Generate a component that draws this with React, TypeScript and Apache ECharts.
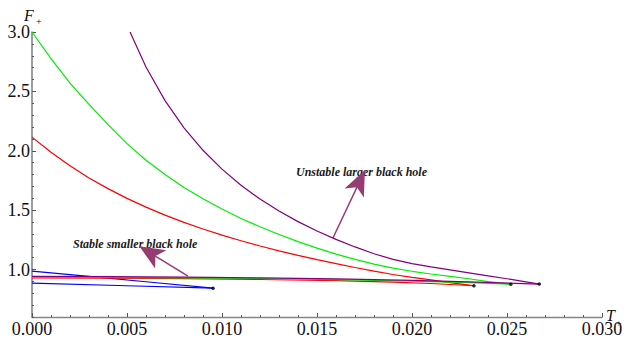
import React, { useEffect, useRef } from "react";
import * as echarts from "echarts";

// Tick labels
const xTickLabels = [0, 0.005, 0.01, 0.015, 0.02, 0.025, 0.03];
const yTickLabels = [1.0, 1.5, 2.0, 2.5, 3.0];

// Blue (cusp at T ≈ 0.00953)
const blueUpper: [number, number][] = [[0, 0.987], [0.003, 0.942], [0.006, 0.897], [0.00953, 0.843]];
const blueLower: [number, number][] = [[0, 0.885], [0.005, 0.863], [0.00953, 0.843]];

// Red (cusp at T ≈ 0.02326)
const redUpper: [number, number][] = [
  [0, 2.115], [0.001, 1.987], [0.002, 1.873], [0.003, 1.771], [0.004, 1.681], [0.005, 1.599],
  [0.006, 1.525], [0.007, 1.458], [0.008, 1.397], [0.009, 1.341], [0.01, 1.29], [0.011, 1.242],
  [0.012, 1.198], [0.013, 1.157], [0.014, 1.119], [0.015, 1.083], [0.016, 1.05], [0.017, 1.017],
  [0.018, 0.986], [0.019, 0.958], [0.02, 0.934], [0.021, 0.912], [0.022, 0.89], [0.023, 0.869],
  [0.02326, 0.863],
];
const redLower: [number, number][] = [
  [0, 0.929], [0.004, 0.927], [0.008, 0.923], [0.012, 0.916], [0.016, 0.906], [0.019, 0.894],
  [0.021, 0.882], [0.02326, 0.863],
];

// Green (cusp at T ≈ 0.0252)
const greenUpper: [number, number][] = [
  [0, 3.0], [0.001, 2.775], [0.002, 2.57], [0.003, 2.39], [0.004, 2.22], [0.005, 2.06],
  [0.006, 1.92], [0.007, 1.8], [0.008, 1.69], [0.009, 1.595], [0.01, 1.51], [0.011, 1.43],
  [0.012, 1.36], [0.013, 1.295], [0.014, 1.235], [0.015, 1.18], [0.016, 1.13], [0.017, 1.085],
  [0.018, 1.045], [0.019, 1.012], [0.02, 0.985], [0.021, 0.962], [0.022, 0.942], [0.023, 0.922],
  [0.024, 0.898], [0.0252, 0.876],
];
const greenLower: [number, number][] = [
  [0, 0.936], [0.004, 0.934], [0.008, 0.93], [0.012, 0.924], [0.016, 0.915], [0.02, 0.902],
  [0.023, 0.889], [0.0252, 0.876],
];

// Purple (cusp at T ≈ 0.0267)
const purpleUpper: [number, number][] = [
  [0.00516, 3.0], [0.006, 2.705], [0.007, 2.422], [0.008, 2.193], [0.009, 2.004], [0.01, 1.845],
  [0.011, 1.71], [0.012, 1.593], [0.013, 1.492], [0.014, 1.403], [0.015, 1.324], [0.016, 1.254],
  [0.017, 1.19], [0.018, 1.133], [0.019, 1.085], [0.02, 1.05], [0.021, 1.022], [0.022, 0.997],
  [0.023, 0.972], [0.024, 0.947], [0.025, 0.922], [0.026, 0.896], [0.0267, 0.877],
];
const purpleLower: [number, number][] = [
  [0, 0.942], [0.004, 0.94], [0.008, 0.936], [0.012, 0.93], [0.016, 0.921], [0.02, 0.908],
  [0.023, 0.896], [0.0267, 0.877],
];

// Cusp end points (black dots)
const cuspPoints: [number, number][] = [[0.00953, 0.843], [0.02326, 0.863], [0.0252, 0.876], [0.0267, 0.877]];

// Annotation arrows (data coordinates: from -> to)
const stableArrow: [number, number][] = [[0.00821, 0.945], [0.00565, 1.195]];
const unstableArrow: [number, number][] = [[0.01584, 1.265], [0.01752, 1.835]];
const stableLabel = "Stable smaller black hole";
const unstableLabel = "Unstable larger black hole";

const SERIF = "'Liberation Serif', 'Times New Roman', serif";
const ARROW = "#973c73";
const AXIS = "#858585";
const TICK = "#555";

export default function App() {
  const ref = useRef<HTMLDivElement>(null);
  useEffect(() => {
    if (!ref.current) return;
    const chart = echarts.init(ref.current, null, { renderer: "svg" });
    const lineSeries = (data: [number, number][], color: string, z: number) => ({
      type: "line",
      data,
      xAxisIndex: 0,
      yAxisIndex: 0,
      symbol: "none",
      smooth: false,
      lineStyle: { color, width: 1.2 },
      z,
      silent: true,
    });
    const arrowItem = (a: [number, number][]) => [
      { coord: a[0], symbol: "none" },
      { coord: a[1], symbol: "arrow", symbolSize: [16, 25] },
    ];
    chart.setOption({
      animation: false,
      grid: { left: 32, right: 27, top: 32, bottom: 24 },
      xAxis: {
        type: "value",
        min: 0,
        max: 0.03,
        interval: 0.005,
        axisLine: { show: true, onZero: false, lineStyle: { color: AXIS, width: 1.3 } },
        axisTick: { show: true, inside: true, length: 4, lineStyle: { color: TICK } },
        minorTick: { show: true, splitNumber: 5, length: 2, lineStyle: { color: TICK } },
        splitLine: { show: false },
        axisLabel: {
          customValues: xTickLabels,
          formatter: (v: number) => v.toFixed(3),
          color: "#111",
          fontSize: 18,
          fontFamily: SERIF,
          margin: 3,
        },
      },
      yAxis: [
        {
          type: "value",
          position: "left",
          min: 0.6,
          max: 3.0,
          interval: 0.1,
          axisLine: { show: true, onZero: false, lineStyle: { color: AXIS, width: 1.6 } },
          axisTick: { show: true, inside: true, length: 2, lineStyle: { color: TICK } },
          axisLabel: { show: false },
          splitLine: { show: false },
        },
        {
          type: "value",
          position: "left",
          min: 0.6,
          max: 3.0,
          axisLine: { show: false },
          axisTick: { show: true, inside: true, length: 4, customValues: yTickLabels, lineStyle: { color: TICK } },
          axisLabel: {
            customValues: yTickLabels,
            formatter: (v: number) => v.toFixed(1),
            color: "#111",
            fontSize: 18,
            fontFamily: SERIF,
            margin: 2,
          },
          splitLine: { show: false },
        },
      ],
      series: [
        lineSeries(blueUpper, "#0000ff", 2),
        lineSeries(blueLower, "#0000ff", 2),
        lineSeries(redLower, "#ff0000", 3),
        lineSeries(greenLower, "#00ee00", 4),
        lineSeries(purpleLower, "#800080", 5),
        lineSeries(redUpper, "#ff0000", 3),
        lineSeries(greenUpper, "#00ee00", 4),
        {
          ...lineSeries(purpleUpper, "#800080", 5),
          markLine: {
            silent: true,
            animation: false,
            label: { show: false },
            lineStyle: { color: ARROW, width: 1.5, type: "solid" },
            itemStyle: { color: ARROW },
            symbol: ["none", "arrow"],
            data: [arrowItem(stableArrow), arrowItem(unstableArrow)],
          },
        },
        {
          type: "scatter",
          data: cuspPoints,
          symbol: "circle",
          symbolSize: 3.5,
          itemStyle: { color: "#000" },
          z: 10,
          silent: true,
        },
      ],
      graphic: [
        { type: "text", x: 24, y: 15, style: { text: "F", font: `italic 16px ${SERIF}`, fill: "#111", verticalAlign: "middle" } },
        { type: "text", x: 36, y: 21, style: { text: "+", font: `10px ${SERIF}`, fill: "#111", verticalAlign: "middle" } },
        { type: "text", x: 606, y: 315, style: { text: "T", font: `italic 16px ${SERIF}`, fill: "#111", verticalAlign: "middle" } },
        { type: "text", x: 616, y: 323, style: { text: "+", font: `10px ${SERIF}`, fill: "#111", verticalAlign: "middle" } },
        { type: "text", x: 73, y: 244, style: { text: stableLabel, font: `italic bold 12px ${SERIF}`, fill: "#1a1a1a", verticalAlign: "middle" } },
        { type: "text", x: 296, y: 171.5, style: { text: unstableLabel, font: `italic bold 12px ${SERIF}`, fill: "#1a1a1a", verticalAlign: "middle" } },
      ],
    });
    return () => chart.dispose();
  }, []);
  return (
    <div
      ref={ref}
      style={{ position: "fixed", left: 0, top: 0, width: 629, height: 341, background: "#fff" }}
    />
  );
}
